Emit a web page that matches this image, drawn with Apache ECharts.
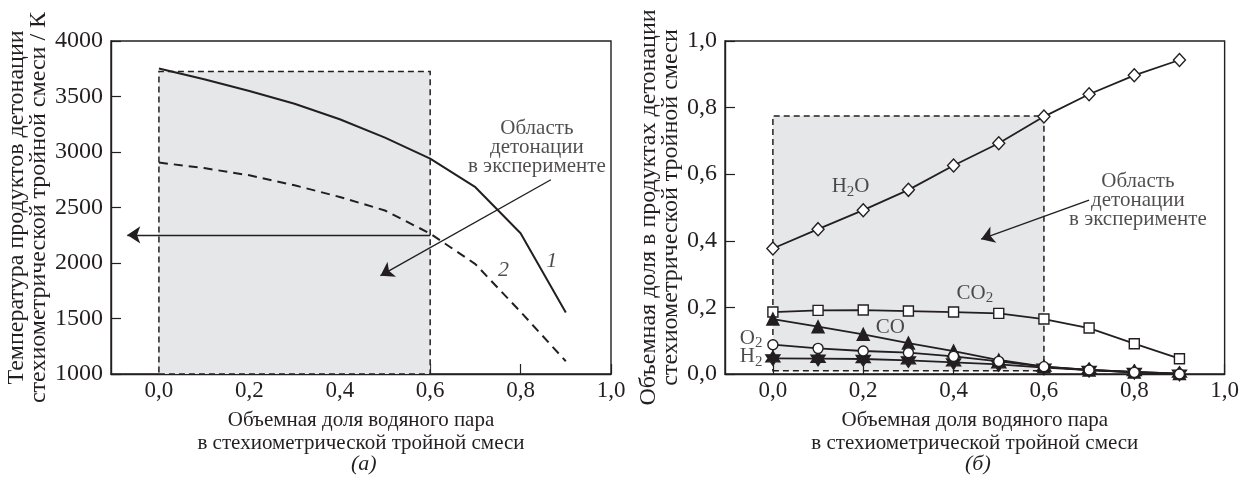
<!DOCTYPE html>
<html>
<head>
<meta charset="utf-8">
<script src="https://cdn.jsdelivr.net/npm/echarts@6/dist/echarts.min.js"></script>
<style>
  html, body { margin: 0; padding: 0; background: #fff; }
  #chart { width: 1242px; height: 484px; }
</style>
</head>
<body>
<div id="chart"></div>
<script>
// доля водяного пара
const xVals = [0, 0.1, 0.2, 0.3, 0.4, 0.5, 0.6, 0.7, 0.8, 0.9];
const xTicks = [0, 0.2, 0.4, 0.6, 0.8, 1.0];

// (а) температура, K
const temp1 = [3753, 3655, 3550, 3435, 3295, 3130, 2940, 2683, 2268, 1554];
const temp2 = [2905, 2855, 2790, 2700, 2595, 2473, 2265, 1990, 1560, 1115];

// (б) объемные доли
const h2o = [0.377, 0.435, 0.492, 0.553, 0.626, 0.693, 0.773, 0.840, 0.897, 0.943];
const co2 = [0.186, 0.191, 0.192, 0.189, 0.186, 0.182, 0.165, 0.138, 0.091, 0.046];
const co  = [0.165, 0.142, 0.119, 0.093, 0.069, 0.042, 0.022, 0.012, 0.006, 0.001];
const o2  = [0.088, 0.077, 0.069, 0.064, 0.053, 0.038, 0.022, 0.012, 0.005, 0.000];
const h2  = [0.047, 0.046, 0.045, 0.041, 0.035, 0.029, 0.019, 0.012, 0.006, 0.001];

// область детонации в эксперименте
const regionX = [0, 0.6];
const regionYa = [1000, 3725];
const regionYb = [0.01, 0.775];

// стрелки
const arrowsA = [[[0.6, 2253], [-0.07, 2253]], [[0.867, 2750], [0.49, 1886]]];
const arrowsB = [[[0.70, 0.522], [0.461, 0.405]]];

// подписи
const notesA = [
  { value: [0.836, 3042], text: 'Область\nдетонации\nв эксперименте' },
  { value: [0.869, 2012], text: '{i|1}' },
  { value: [0.762, 1937], text: '{i|2}' }
];
const notesB = [
  { value: [0.808, 0.5225], text: 'Область\nдетонации\nв эксперименте' },
  { value: [0.172, 0.5625], text: 'H{s|2}O' },
  { value: [0.447, 0.242], text: 'CO{s|2}' },
  { value: [0.26, 0.139], text: 'CO' },
  { value: [-0.048, 0.107], text: 'O{s|2}' },
  { value: [-0.048, 0.052], text: 'H{s|2}' }
];

const FONT = 'Liberation Serif';
const INK = '#231f20';
const pairs = arr => xVals.map((x, i) => [x, arr[i]]);
const comma = v => v.toFixed(1).replace('.', ',');
const star = 'path://M0,-10 L2.9,-5 L8.66,-5 L5.8,0 L8.66,5 L2.9,5 L0,10 L-2.9,5 L-8.66,5 L-5.8,0 L-8.66,-5 L-2.9,-5 Z';

function xAxisOf(idx, z) {
  return {
    gridIndex: idx,
    type: 'value',
    min: -0.106,
    max: 1,
    z: z,
    splitLine: { show: false },
    axisLine: { show: true, onZero: false, lineStyle: { color: INK, width: 1.4 } },
    axisTick: { show: true, inside: true, length: 10, customValues: xTicks, lineStyle: { color: INK, width: 1.2 } },
    axisLabel: { customValues: xTicks, formatter: comma, fontFamily: FONT, fontSize: 23, color: INK, margin: 5 },
    name: 'Объемная доля водяного пара\nв стехиометрической тройной смеси',
    nameLocation: 'middle',
    nameGap: 35,
    nameTextStyle: { fontFamily: FONT, fontSize: 21, color: INK, lineHeight: 23 }
  };
}

function noteSeries(idx, notes) {
  return {
    type: 'scatter',
    xAxisIndex: idx,
    yAxisIndex: idx,
    silent: true,
    z: 6,
    symbolSize: 1,
    itemStyle: { color: 'rgba(0,0,0,0)' },
    data: notes.map(n => ({ value: n.value, text: n.text })),
    label: {
      show: true,
      position: 'inside',
      formatter: p => p.data.text,
      fontFamily: FONT,
      fontSize: 21,
      color: INK,
      lineHeight: 19,
      align: 'center',
      rich: {
        s: { fontFamily: FONT, fontSize: 15, color: INK, padding: [10, 0, 0, 0] },
        i: { fontFamily: FONT, fontSize: 22, color: INK, fontStyle: 'italic' }
      }
    }
  };
}

function arrowSeries(idx, arrows) {
  return {
    type: 'lines',
    coordinateSystem: 'cartesian2d',
    xAxisIndex: idx,
    yAxisIndex: idx,
    silent: true,
    z: 5,
    symbol: ['none', 'arrow'],
    symbolSize: [0, 13],
    lineStyle: { color: INK, width: 1.4, opacity: 1 },
    data: arrows.map(a => ({ coords: a }))
  };
}

function markerLine(data, symbol, filled, size) {
  return {
    type: 'line',
    xAxisIndex: 1,
    yAxisIndex: 1,
    data: pairs(data),
    symbol: symbol,
    symbolSize: size,
    showAllSymbol: true,
    lineStyle: { color: INK, width: 1.8 },
    itemStyle: { color: filled ? INK : '#fff', borderColor: INK, borderWidth: 1.4 },
    z: 3
  };
}

const chart = echarts.init(document.getElementById('chart'));
chart.setOption({
  backgroundColor: '#fff',
  animation: false,
  grid: [
    { left: 111, top: 41, width: 500, height: 333, show: true, borderColor: INK, borderWidth: 1.4 },
    { left: 725, top: 41, width: 500, height: 333, show: true, borderColor: INK, borderWidth: 1.4 }
  ],
  xAxis: [xAxisOf(0, 0), xAxisOf(1, 3)],
  yAxis: [
    {
      gridIndex: 0, type: 'value', min: 1000, max: 4000, interval: 500,
      splitLine: { show: false },
      axisLine: { show: true, onZero: false, lineStyle: { color: INK, width: 1.4 } },
      axisTick: { show: true, inside: true, length: 10, lineStyle: { color: INK, width: 1.2 } },
      axisLabel: { fontFamily: FONT, fontSize: 24, color: INK, margin: 8, formatter: v => String(v) },
      name: 'Температура продуктов детонации\nстехиометрической тройной смеси / К',
      nameLocation: 'middle', nameRotate: 90, nameGap: 49,
      nameTextStyle: { fontFamily: FONT, fontSize: 24, color: INK, lineHeight: 22 }
    },
    {
      gridIndex: 1, type: 'value', min: 0, max: 1, interval: 0.2,
      splitLine: { show: false },
      axisLine: { show: true, onZero: false, lineStyle: { color: INK, width: 1.4 } },
      axisTick: { show: true, inside: true, length: 10, lineStyle: { color: INK, width: 1.2 } },
      axisLabel: { fontFamily: FONT, fontSize: 24, color: INK, margin: 8, formatter: comma },
      name: 'Объемная доля в продуктах детонации\nстехиометрической тройной смеси',
      nameLocation: 'middle', nameRotate: 90, nameGap: 40,
      nameTextStyle: { fontFamily: FONT, fontSize: 24, color: INK, lineHeight: 22 }
    }
  ],
  series: [
    {
      name: '1',
      type: 'line',
      xAxisIndex: 0, yAxisIndex: 0,
      data: pairs(temp1),
      symbol: 'none',
      lineStyle: { color: INK, width: 2 },
      z: 3,
      markArea: {
        silent: true,
        itemStyle: { color: '#e6e7e8', borderColor: INK, borderWidth: 1.5, borderType: [6, 4] },
        data: [[{ coord: [regionX[0], regionYa[0]] }, { coord: [regionX[1], regionYa[1]] }]]
      }
    },
    {
      name: '2',
      type: 'line',
      xAxisIndex: 0, yAxisIndex: 0,
      data: pairs(temp2),
      symbol: 'none',
      lineStyle: { color: INK, width: 2, type: [9, 6] },
      z: 3
    },
    arrowSeries(0, arrowsA),
    noteSeries(0, notesA),
    Object.assign(markerLine(co2, 'rect', false, 10), {
      markArea: {
        silent: true,
        itemStyle: { color: '#e6e7e8', borderColor: INK, borderWidth: 1.5, borderType: [6, 4] },
        data: [[{ coord: [regionX[0], regionYb[0]] }, { coord: [regionX[1], regionYb[1]] }]]
      }
    }),
    markerLine(co, 'triangle', true, 12),
    markerLine(h2, star, true, 14),
    markerLine(o2, 'circle', false, 10),
    markerLine(h2o, 'diamond', false, [12, 13]),
    arrowSeries(1, arrowsB),
    noteSeries(1, notesB)
  ],
  graphic: [
    { type: 'text', left: 351, top: 453, style: { text: '(а)', fontFamily: FONT, fontSize: 22, fontStyle: 'italic', fill: INK } },
    { type: 'text', left: 965, top: 453, style: { text: '(б)', fontFamily: FONT, fontSize: 22, fontStyle: 'italic', fill: INK } }
  ]
});
</script>
</body>
</html>
